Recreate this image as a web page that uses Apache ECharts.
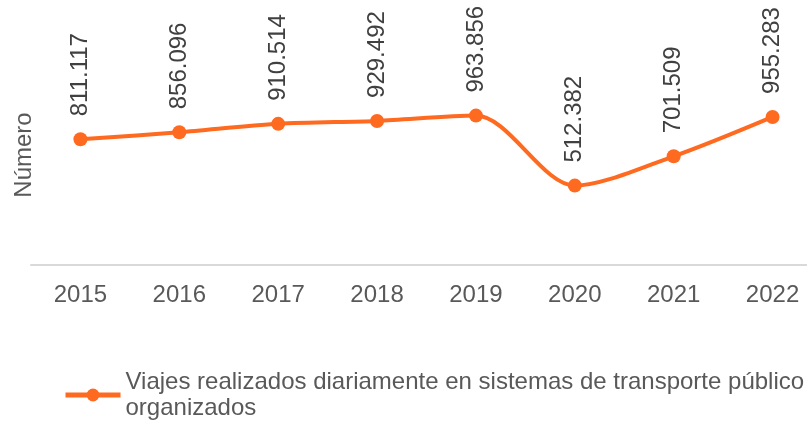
<!DOCTYPE html>
<html>
<head>
<meta charset="utf-8">
<script src="https://cdn.jsdelivr.net/npm/echarts@6/dist/echarts.min.js"></script>
<style>
html, body { margin: 0; padding: 0; background: #fff; }
#main { width: 807px; height: 423px; }
</style>
</head>
<body>
<div id="main"></div>
<script>
// datos
var years = ['2015', '2016', '2017', '2018', '2019', '2020', '2021', '2022'];
var viajes = [811117, 856096, 910514, 929492, 963856, 512382, 701509, 955283];
var serieNombre = 'Viajes realizados diariamente en sistemas de transporte público organizados';

// 811117 -> 811.117
function formato(v) {
  return String(v).replace(/\B(?=(\d{3})+(?!\d))/g, '.');
}

var chart = echarts.init(document.getElementById('main'));
var option = {
  animation: false,
  textStyle: { fontFamily: 'Liberation Sans, Arial, sans-serif' },
  grid: {
    left: 31,
    top: 79,
    width: 791,
    height: 186,
    outerBoundsMode: 'none',
    containLabel: false
  },
  legend: {
    left: 58,
    top: 351,
    itemWidth: 55,
    itemHeight: 16,
    itemGap: 0,
    lineStyle: { width: 5 },
    // segunda línea como en el original
    formatter: function (name) {
      return name.replace(' organizados', '\norganizados');
    },
    textStyle: {
      color: '#595959',
      fontSize: 24,
      lineHeight: 26,
      padding: [26, 0, 0, 0]
    },
    data: [serieNombre]
  },
  xAxis: {
    type: 'category',
    data: years,
    boundaryGap: true,
    axisLine: { lineStyle: { color: '#d9d9d9', width: 2 } },
    axisTick: { show: false },
    axisLabel: { color: '#595959', fontSize: 24, margin: 18 }
  },
  yAxis: {
    type: 'value',
    min: 0,
    max: 1200000,
    name: 'Número',
    nameLocation: 'middle',
    nameGap: -5,
    nameRotate: 90,
    nameTextStyle: { color: '#595959', fontSize: 24, padding: [0, 0, 0, 34] },
    axisLine: { show: false },
    axisTick: { show: false },
    axisLabel: { show: false },
    splitLine: { show: false }
  },
  series: [
    {
      name: serieNombre,
      type: 'line',
      data: viajes,
      smooth: 0.3,
      symbol: 'circle',
      symbolSize: 14,
      itemStyle: { color: '#ff6a21' },
      lineStyle: { color: '#ff6a21', width: 4 },
      label: {
        show: true,
        position: 'top',
        distance: 16,
        rotate: 90,
        align: 'left',
        verticalAlign: 'middle',
        color: '#404040',
        fontSize: 24,
        formatter: function (p) { return formato(p.value); }
      }
    }
  ]
};
chart.setOption(option);
</script>
</body>
</html>
